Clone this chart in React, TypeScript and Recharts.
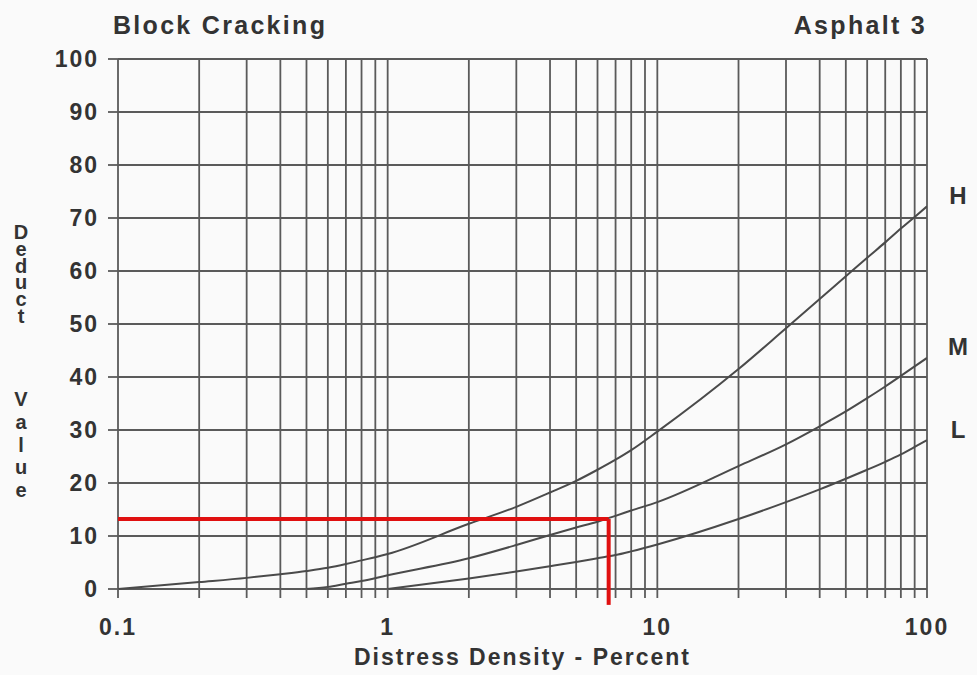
import { ComposedChart, Line, XAxis, YAxis, CartesianGrid, ReferenceLine } from "recharts";

// log grid: every minor step from 0.1 to 100
const X_TICKS = [
  0.1, 0.2, 0.3, 0.4, 0.5, 0.6, 0.7, 0.8, 0.9,
  1, 2, 3, 4, 5, 6, 7, 8, 9,
  10, 20, 30, 40, 50, 60, 70, 80, 90,
  100,
];
const X_LABELS = [0.1, 1, 10, 100];
const Y_TICKS = [0, 10, 20, 30, 40, 50, 60, 70, 80, 90, 100];

// severity curves
const H_X = [0.1, 0.2, 0.3, 0.4, 0.5, 0.6, 0.7, 0.8, 0.9, 1, 2, 3, 4, 5, 6, 7, 8, 10, 20, 30, 40, 50, 60, 70, 80, 90, 100];
const H_Y = [0, 1.3, 2.1, 2.8, 3.4, 4.0, 4.7, 5.4, 6.0, 6.6, 12.3, 15.5, 18.2, 20.4, 22.5, 24.4, 26.2, 29.7, 41.5, 49.2, 54.7, 59.0, 62.5, 65.4, 68.0, 70.2, 72.2];

const M_X = [0.5, 0.6, 0.7, 0.8, 1, 2, 3, 4, 5, 6, 7, 8, 10, 20, 30, 40, 50, 60, 70, 80, 90, 100];
const M_Y = [0, 0.4, 1.0, 1.5, 2.6, 5.8, 8.3, 10.2, 11.6, 12.7, 13.8, 14.8, 16.4, 23.2, 27.3, 30.7, 33.5, 36.0, 38.2, 40.2, 42.0, 43.6];

const L_X = [1, 2, 3, 4, 5, 6, 7, 8, 10, 20, 30, 40, 50, 60, 70, 80, 90, 100];
const L_Y = [0, 2.0, 3.3, 4.3, 5.1, 5.8, 6.4, 7.1, 8.4, 13.2, 16.4, 18.8, 20.8, 22.5, 24.0, 25.4, 26.8, 28.1];

// red reading marker
const MARKER_X = 6.6;
const MARKER_Y = 13.2;
const MARKER_Y_END = -3;

const toRows = (xs: number[], ys: number[]) => xs.map((x, i) => ({ x, y: ys[i] }));
const H_DATA = toRows(H_X, H_Y);
const M_DATA = toRows(M_X, M_Y);
const L_DATA = toRows(L_X, L_Y);

const FONT = "'Liberation Sans', Arial, sans-serif";
const INK = "#333";
const GRID = "#5a5a5a";
const CURVE = "#4a4a4a";
const RED = "#e01010";

const tickStyle = { fill: INK, fontSize: 23, fontWeight: 700, fontFamily: FONT, letterSpacing: 2 };
const upright = { writingMode: "vertical-rl", textOrientation: "upright" } as any;

function DeductLabel() {
  const common = {
    x: 21,
    fill: INK,
    fontSize: 20,
    fontWeight: 700,
    fontFamily: FONT,
  };
  return (
    <g>
      <text {...common} y={221} letterSpacing={-5.2} style={upright}>
        Deduct
      </text>
      <text {...common} y={388} letterSpacing={0.8} style={upright}>
        Value
      </text>
    </g>
  );
}

function endLabel(name: string, count: number) {
  return (props: any) => {
    if (props.index !== count - 1) return null;
    return (
      <text
        key={name}
        x={props.x + 31}
        y={props.y - 11}
        fill={INK}
        fontSize={24}
        fontWeight={700}
        fontFamily={FONT}
        textAnchor="middle"
        dominantBaseline="central"
      >
        {name}
      </text>
    );
  };
}

export default function App() {
  return (
    <div
      style={{
        position: "absolute",
        left: 0,
        top: 0,
        width: 977,
        height: 675,
        background: "#fafafa",
        fontFamily: FONT,
      }}
    >
      <div style={{ position: "absolute", left: 113, top: 11, fontSize: 25, fontWeight: 700, color: INK, letterSpacing: 2.3 }}>
        Block Cracking
      </div>
      <div style={{ position: "absolute", right: 50, top: 11, fontSize: 25, fontWeight: 700, color: INK, letterSpacing: 2.3 }}>
        Asphalt 3
      </div>
      <ComposedChart width={977} height={675} margin={{ top: 59, right: 50, bottom: 0, left: 58 }}>
        <CartesianGrid stroke={GRID} strokeWidth={1.8} />
        <XAxis
          dataKey="x"
          type="number"
          scale="log"
          domain={[0.1, 100]}
          ticks={X_TICKS}
          interval={0}
          allowDataOverflow
          height={86}
          axisLine={false}
          tickSize={9}
          tickMargin={21}
          tickLine={{ stroke: GRID, strokeWidth: 1.8 }}
          tick={tickStyle}
          tickFormatter={(v: number) => (X_LABELS.includes(v) ? String(v) : "")}
          label={{
            value: "Distress Density - Percent",
            position: "insideBottom",
            offset: 10,
            fill: INK,
            fontSize: 23,
            fontWeight: 700,
            fontFamily: FONT,
            letterSpacing: 2,
          }}
        />
        <YAxis
          type="number"
          domain={[0, 100]}
          ticks={Y_TICKS}
          interval={0}
          width={60}
          axisLine={false}
          tickSize={10}
          tickMargin={9}
          tickLine={{ stroke: GRID, strokeWidth: 1.8 }}
          tick={tickStyle}
          label={{ content: DeductLabel }}
        />
        <Line
          data={H_DATA}
          dataKey="y"
          type="monotone"
          stroke={CURVE}
          strokeWidth={2}
          dot={false}
          isAnimationActive={false}
          label={endLabel("H", H_DATA.length)}
        />
        <Line
          data={M_DATA}
          dataKey="y"
          type="monotone"
          stroke={CURVE}
          strokeWidth={2}
          dot={false}
          isAnimationActive={false}
          label={endLabel("M", M_DATA.length)}
        />
        <Line
          data={L_DATA}
          dataKey="y"
          type="monotone"
          stroke={CURVE}
          strokeWidth={2}
          dot={false}
          isAnimationActive={false}
          label={endLabel("L", L_DATA.length)}
        />
        <ReferenceLine
          segment={[{ x: 0.1, y: MARKER_Y }, { x: MARKER_X, y: MARKER_Y }]}
          stroke={RED}
          strokeWidth={4}
          ifOverflow="visible"
        />
        <ReferenceLine
          segment={[{ x: MARKER_X, y: MARKER_Y }, { x: MARKER_X, y: MARKER_Y_END }]}
          stroke={RED}
          strokeWidth={4}
          ifOverflow="visible"
        />
      </ComposedChart>
    </div>
  );
}
